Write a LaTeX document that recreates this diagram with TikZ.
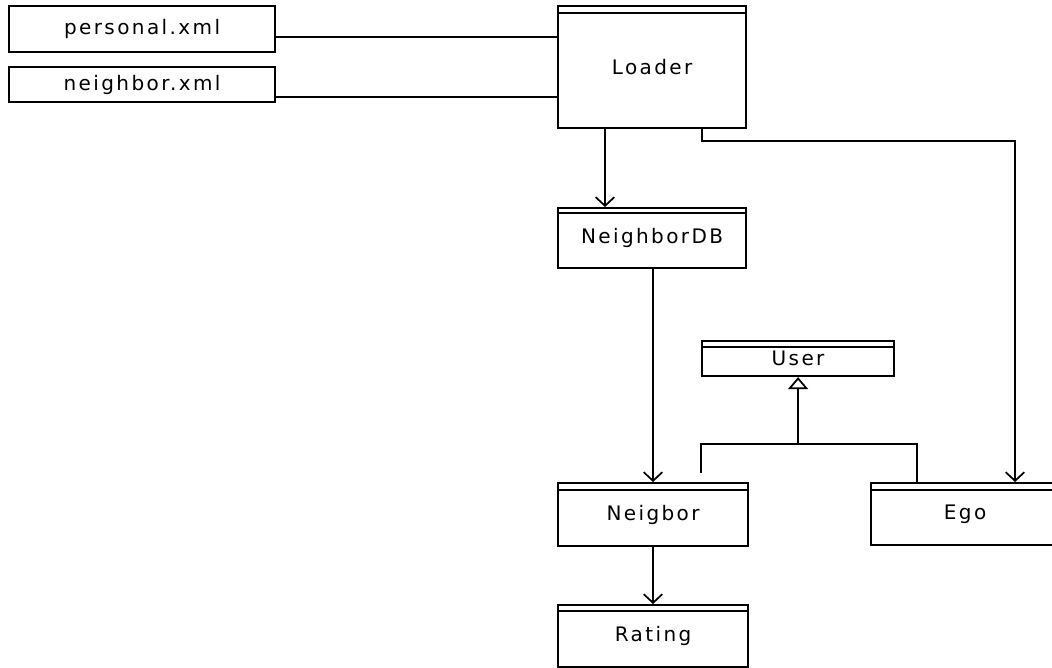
\documentclass[tikz,border=0pt]{standalone}
\usepackage{fontspec}
\setmainfont{DejaVu Sans}[LetterSpace=12]
\usetikzlibrary{arrows.meta}
\begin{document}
\begin{tikzpicture}[x=0.75pt,y=-0.75pt,
  line width=1.6pt,
  every node/.style={font=\fontsize{15}{18}\selectfont},
  filebox/.style={draw,rectangle,anchor=north west,inner sep=0pt},
  classbox/.style={draw,rectangle,anchor=north west,inner sep=0pt},
  assoc/.style={-{Straight Barb[length=6.5pt,width=14pt,line width=1.3pt]}},
  gen/.style={-{Triangle[open,length=9pt,width=15pt,line width=1.3pt]}}]
\useasboundingbox (0,0) rectangle (1052,667);
\clip (0,0) rectangle (1052,667);

% data files
\node[filebox,minimum width=199.5pt,minimum height=34.5pt] (pers) at (8,5) {personal.xml};
\node[filebox,minimum width=199.5pt,minimum height=26.25pt] (nxml) at (8,66) {neighbor.xml};

% classes
\node[classbox,minimum width=141pt,minimum height=91.5pt] (loader) at (557,5) {Loader};
\node[classbox,minimum width=141pt,minimum height=45pt] (ndb) at (557,207) {NeighborDB};
\node[classbox,minimum width=144pt,minimum height=26.25pt] (user) at (701,340) {User};
\node[classbox,minimum width=142.5pt,minimum height=47.25pt] (neigbor) at (557,482) {Neigbor};
\node[classbox,minimum width=141pt,minimum height=46.5pt] (ego) at (870,482) {Ego};
\node[classbox,minimum width=142.5pt,minimum height=46.5pt] (rating) at (557,604) {Rating};

% header compartments
\draw (loader.north west) ++(0,8) -- (loader.east |- 0,13);
\draw (ndb.north west) ++(0,6) -- (ndb.east |- 0,213);
\draw (user.north west) ++(0,7) -- (user.east |- 0,347);
\draw (neigbor.north west) ++(0,8) -- (neigbor.east |- 0,490);
\draw (ego.north west) ++(0,8) -- (ego.east |- 0,490);
\draw (rating.north west) ++(0,7) -- (rating.east |- 0,611);

% routing points
\coordinate (r1) at (0,37);
\coordinate (r2) at (0,97);
\coordinate (c1) at (605,0);
\coordinate (bend) at (702,141);
\coordinate (eg) at (1015,141);
\coordinate (mid) at (653,0);
\coordinate (gl) at (701,473);
\coordinate (gr) at (917,444);

% file links
\draw (pers.east |- r1) -- (loader.west |- r1);
\draw (nxml.east |- r2) -- (loader.west |- r2);

% associations
\draw[assoc] (loader.south -| c1) -- (ndb.north -| c1);
\draw[assoc] (loader.south -| bend) -- (bend) -- (eg) -- (ego.north -| eg);
\draw[assoc] (ndb.south -| mid) -- (neigbor.north -| mid);
\draw[assoc] (neigbor.south -| mid) -- (rating.north -| mid);

% generalization to User
\draw (gl) |- (gr) -- (ego.north -| gr);
\draw[gen] (user.south |- gr) -- (user.south);
\end{tikzpicture}
\end{document}
